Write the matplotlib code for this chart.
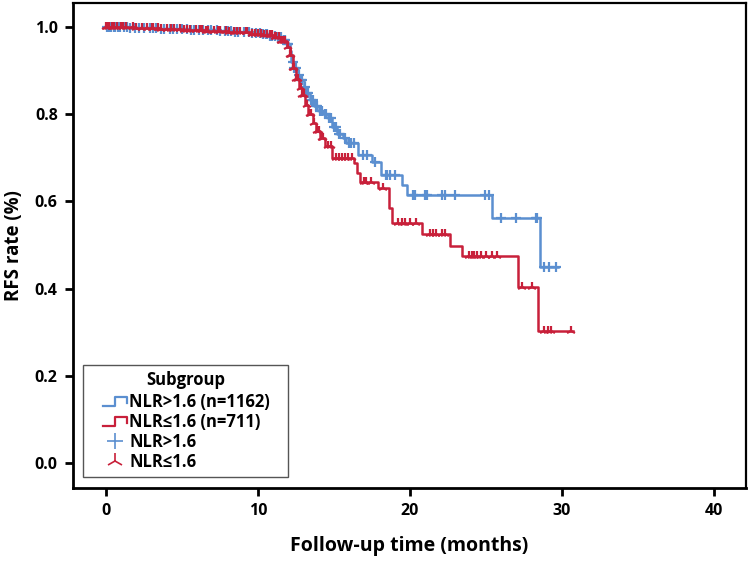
import numpy as np
import matplotlib
matplotlib.use("Agg")
import matplotlib.pyplot as plt
from matplotlib.lines import Line2D
from matplotlib.legend_handler import HandlerBase

plt.rcParams['font.family'] = ['Open Sans', 'DejaVu Sans']
plt.rcParams['font.weight'] = 'bold'

###################################################################################################
# data: step times (months) and RFS after each step

blue_t = [0, 0.8, 1.5, 2.5, 3.5, 4.5, 5.5, 6.5, 7.5, 8.5, 9.5, 10.2, 10.7, 11.2, 11.6, 11.9,
          12.1, 12.2, 12.4, 12.6, 12.8, 13.0, 13.2, 13.4, 13.7, 14.0, 14.3, 14.6, 14.9, 15.2,
          15.6, 15.8, 16.6, 17.5, 18.1, 19.5, 19.8, 25.4, 28.55]
blue_s = [1.0, 0.999, 0.998, 0.997, 0.996, 0.995, 0.993, 0.992, 0.990, 0.988, 0.986, 0.983,
          0.980, 0.976, 0.970, 0.962, 0.945, 0.920, 0.905, 0.890, 0.878, 0.862, 0.848, 0.832,
          0.818, 0.808, 0.800, 0.792, 0.770, 0.755, 0.745, 0.733, 0.706, 0.690, 0.660, 0.637,
          0.614, 0.562, 0.449]
blue_end = 29.7
blue_cens = [0.1, 0.2, 0.3, 0.5, 0.6, 0.8, 0.9, 1.2, 1.4, 1.6, 1.9, 2.2, 2.5, 2.9, 3.1, 3.3,
             3.6, 3.8, 4.2, 4.4, 4.7, 5.0, 5.3, 5.6, 5.8, 6.1, 6.4, 6.7, 6.9, 7.3, 7.5, 7.8,
             8.0, 8.2, 8.5, 8.7, 9.1, 9.4, 9.6, 9.9, 10.1, 10.3, 10.5, 10.6, 10.8, 10.9,
             11.1, 11.3, 11.4, 11.5, 11.7, 11.8, 11.9, 12.0, 12.3, 12.4, 12.5, 12.7, 12.8,
             12.9, 13.1, 13.2, 13.3, 13.5, 13.6, 13.8, 13.9, 14.1, 14.2, 14.4, 14.5, 14.7,
             14.8, 15.0, 15.1, 15.3, 15.4, 15.7, 16.0, 16.1, 16.3, 16.9, 17.2, 17.7, 18.4,
             18.5, 18.7, 19.0, 20.2, 20.3, 21.0, 21.1, 22.1, 22.3, 22.95, 24.9, 25.2, 26.0,
             27.0, 28.26, 28.37, 28.8, 29.17, 29.6]

red_t = [0, 0.8, 2.0, 3.5, 5.0, 6.5, 8.0, 9.5, 10.3, 11.0, 11.5, 11.9, 12.1, 12.3, 12.5, 12.7,
         12.9, 13.1, 13.3, 13.6, 13.8, 14.1, 14.4, 14.9, 16.3, 16.5, 16.7, 17.9, 18.6, 18.8,
         20.8, 22.6, 23.4, 27.1, 28.4]
red_s = [1.0, 0.999, 0.997, 0.995, 0.993, 0.991, 0.988, 0.985, 0.981, 0.976, 0.968, 0.955,
         0.935, 0.905, 0.880, 0.860, 0.845, 0.820, 0.800, 0.780, 0.762, 0.745, 0.728, 0.700,
         0.688, 0.665, 0.644, 0.630, 0.586, 0.550, 0.526, 0.499, 0.474, 0.405, 0.302]
red_end = 30.7
red_cens = [0.0, 0.1, 0.2, 0.4, 0.5, 0.7, 1.0, 1.1, 1.3, 1.8, 2.0, 2.4, 2.7, 3.0, 3.1, 3.4,
            3.6, 4.0, 4.3, 4.5, 4.9, 5.1, 5.3, 5.5, 5.9, 6.2, 6.3, 6.6, 6.7, 7.1, 7.4, 7.5,
            7.9, 8.1, 8.4, 8.6, 8.8, 9.2, 9.3, 9.6, 9.8, 10.0, 10.2, 10.4, 10.6, 10.8, 10.9,
            11.1, 11.2, 11.4, 11.5, 11.6, 11.7, 11.8, 12.0, 12.1, 12.2, 12.3, 12.4, 12.5,
            12.6, 12.8, 12.9, 13.0, 13.2, 13.4, 13.5, 13.7, 13.9, 14.0, 14.2, 14.3, 14.6,
            14.8, 15.1, 15.3, 15.5, 15.7, 15.9, 16.2, 17.0, 17.1, 17.4, 18.2, 19.24, 19.45,
            19.67, 20.0, 20.4, 21.3, 21.5, 21.7, 22.1, 22.3, 23.9, 24.1, 24.2, 24.4, 24.7,
            25.0, 25.4, 25.7, 27.35, 28.0, 28.8, 29.1, 29.3, 30.6]

labels = ['NLR>1.6 (n=1162)', 'NLR≤1.6 (n=711)', 'NLR>1.6', 'NLR≤1.6']
BLUE = '#5b8fd0'
RED = '#c8203a'

###################################################################################################

def step_value(times, surv, t):
    """Survival value of a step curve at time t."""
    idx = np.searchsorted(times, t, side='right') - 1
    return np.asarray(surv)[idx]

class StepHandler(HandlerBase):
    """Legend icon drawn as a small step, pushed to the right of the handle box."""
    def create_artists(self, legend, orig_handle, xdescent, ydescent, width, height,
                       fontsize, trans):
        x0 = -xdescent
        lo = -ydescent + height * 0.1
        hi = -ydescent + height * 0.85
        mid = -ydescent + height * 0.4
        xa, xb, xc = x0 + width * 0.38, x0 + width * 0.70, x0 + width
        line = Line2D([xa, xb, xb, xc, xc], [lo, lo, hi, hi, mid],
                      color=orig_handle.get_color(), lw=orig_handle.get_linewidth())
        line.set_transform(trans)
        return [line]

class MarkHandler(HandlerBase):
    """Single censor marker placed under the step icons."""
    def create_artists(self, legend, orig_handle, xdescent, ydescent, width, height,
                       fontsize, trans):
        xm = -xdescent + width * 0.69
        ym = -ydescent + height * 0.5
        mk = Line2D([xm], [ym], linestyle='none', marker=orig_handle.get_marker(),
                    color=orig_handle.get_color(), ms=orig_handle.get_markersize(),
                    mew=orig_handle.get_markeredgewidth())
        mk.set_transform(trans)
        return [mk]

fig = plt.figure(figsize=(7.5, 5.61), dpi=100)
ax = fig.add_axes([0.0973, 0.130, 0.8974, 0.8647])

for times, surv, end, cens, col, mk in [(blue_t, blue_s, blue_end, blue_cens, BLUE, '+'),
                                        (red_t, red_s, red_end, red_cens, RED, '2')]:
    xs = list(times) + [end]
    ys = list(surv) + [surv[-1]]
    ax.step(xs, ys, where='post', color=col, lw=1.8)
    cy = step_value(times, surv, np.array(cens))
    ax.plot(cens, cy, linestyle='none', marker=mk, color=col, ms=7, mew=1.6)

ax.set_xlim(-2.17, 42.1)
ax.set_ylim(-0.057, 1.055)
ax.set_xticks([0, 10, 20, 30, 40])
ax.set_yticks([0.0, 0.2, 0.4, 0.6, 0.8, 1.0])
ax.set_yticklabels([f'{v:.1f}' for v in [0.0, 0.2, 0.4, 0.6, 0.8, 1.0]])
ax.tick_params(direction='out', length=6, width=2, labelsize=11.5, pad=5)
for lab in ax.get_xticklabels() + ax.get_yticklabels():
    lab.set_fontweight('bold')
for sp in ax.spines.values():
    sp.set_linewidth(1.6)
ax.spines['left'].set_linewidth(2)
ax.spines['bottom'].set_linewidth(2)

ax.set_xlabel('Follow-up time (months)', fontsize=14, fontweight='bold', labelpad=12)
ax.set_ylabel('RFS rate (%)', fontsize=13.5, fontweight='bold', labelpad=8)

handles = [Line2D([], [], color=BLUE, lw=1.6),
           Line2D([], [], color=RED, lw=1.6),
           Line2D([], [], color=BLUE, marker='+', linestyle='none', ms=12, mew=1.2),
           Line2D([], [], color=RED, marker='2', linestyle='none', ms=12, mew=1.2)]
leg = ax.legend(handles, labels, title='Subgroup', loc='lower left',
                bbox_to_anchor=(0.0149, 0.0227, 0.3046, 0.3), mode='expand', borderaxespad=0,
                handler_map={handles[0]: StepHandler(), handles[1]: StepHandler(),
                             handles[2]: MarkHandler(), handles[3]: MarkHandler()},
                prop={'size': 12, 'weight': 'bold'},
                title_fontproperties={'size': 12, 'weight': 'bold'},
                handlelength=2.28, handletextpad=0.15, labelspacing=0.12, borderpad=0.35,
                fancybox=False, edgecolor='#555555', framealpha=1)
leg.get_frame().set_linewidth(1.0)
leg._legend_box.sep = 3

fig.savefig('out.png', dpi=100)
